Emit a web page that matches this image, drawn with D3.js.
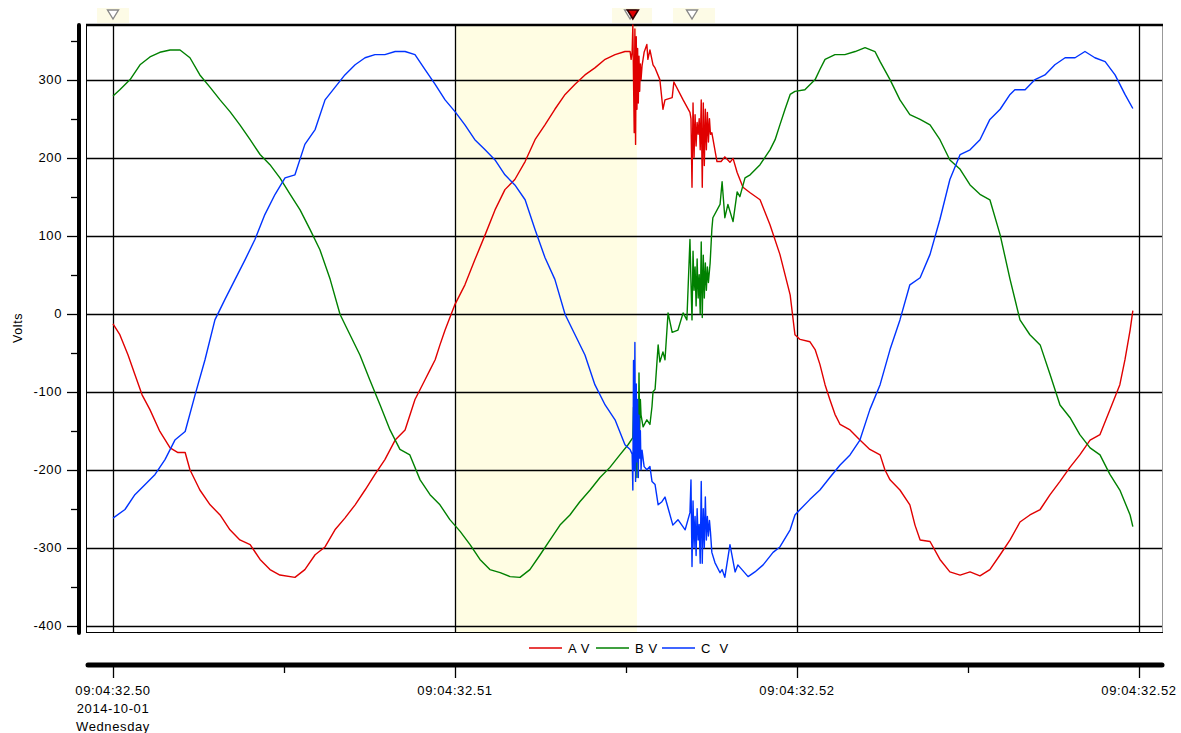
<!DOCTYPE html>
<html><head><meta charset="utf-8">
<script src="https://cdn.jsdelivr.net/npm/d3@7"></script>
<style>body{margin:0;background:#fff;} text{font-family:"Liberation Sans",Arial,sans-serif;fill:#000;letter-spacing:0.6px;}</style>
</head><body><svg id="c" width="1181" height="733"></svg>
<script>
// ---- data (time in ms after 09:04:32.500, values in Volts) ----
const seriesNames = ["A V", "B V", "C\u00a0 V"];
const xTickLabels = ["09:04:32.50", "09:04:32.51", "09:04:32.52", "09:04:32.52"];
const xTickTimes = [0, 10, 20, 30];
const xMinorTimes = [5, 15, 25];
const dateLines = ["2014-10-01", "Wednesday"];
const yTicks = [-400, -300, -200, -100, 0, 100, 200, 300];
const yMinorTicks = [-350, -250, -150, -50, 50, 150, 250, 350];
const shadedSpan = [10, 15.32];
const markerTimes = [0, 15.12, 15.2, 16.93];

const aVolts = [[0,-13],[0.20,-27],[0.44,-53],[0.64,-78],[0.85,-104],[1.08,-123],[1.37,-151],[1.67,-172],[1.90,-178],[2.11,-178],[2.25,-200],[2.54,-226],[2.84,-245],[3.13,-258],[3.42,-277],[3.71,-290],[4.01,-296],[4.30,-315],[4.59,-328],[4.88,-335],[5.32,-338],[5.61,-328],[5.91,-309],[6.20,-299],[6.49,-277],[6.78,-262],[7.08,-245],[7.37,-226],[7.66,-206],[7.95,-187],[8.25,-162],[8.54,-149],[8.83,-110],[9.12,-85],[9.27,-72],[9.42,-59],[9.56,-40],[9.71,-21],[10.00,12],[10.29,37],[10.58,69],[10.88,101],[11.17,133],[11.46,159],[11.75,172],[12.05,195],[12.34,223],[12.63,242],[12.92,262],[13.22,281],[13.51,294],[13.80,306],[14.09,315],[14.39,326],[14.68,332],[14.97,336],[15.12,336],[15.15,326],[15.18,336],
[15.20,370],[15.22,300],[15.24,232],[15.26,365],[15.28,217],[15.30,355],[15.32,262],[15.34,340],[15.36,270],[15.38,330],[15.40,285],[15.42,320],[15.44,300],[15.47,318],[15.53,335],[15.61,345],[15.64,326],[15.70,338],[15.79,319],[15.85,315],[15.99,300],[16.08,262],[16.14,274],[16.35,277],[16.40,297],[16.67,274],[16.87,258],
[16.90,250],[16.93,162],[16.96,270],[16.99,200],[17.02,255],[17.05,215],[17.08,245],[17.11,230],[17.14,250],[17.17,210],[17.20,274],[17.23,162],[17.26,270],[17.29,190],[17.32,262],[17.35,210],[17.38,258],[17.41,220],[17.44,250],[17.47,230],[17.51,232],[17.66,195],[17.78,195],[17.89,201],[18.04,194],[18.13,199],[18.25,181],[18.42,162],[18.63,155],[18.92,146],[19.21,114],[19.50,76],[19.80,24],[19.94,-27],[20.09,-33],[20.38,-36],[20.53,-46],[20.67,-65],[20.82,-91],[20.96,-110],[21.11,-129],[21.26,-142],[21.55,-149],[21.84,-162],[22.13,-174],[22.43,-181],[22.57,-200],[22.72,-213],[23.01,-226],[23.30,-245],[23.45,-271],[23.60,-290],[23.89,-292],[24.18,-315],[24.47,-331],[24.77,-335],[25.06,-331],[25.35,-336],[25.64,-328],[25.94,-309],[26.23,-290],[26.52,-267],[26.81,-258],[27.11,-251],[27.40,-232],[27.69,-215],[27.98,-197],[28.27,-181],[28.57,-162],[28.86,-155],[29.15,-123],[29.44,-91],[29.59,-59],[29.74,-21],[29.82,4]];

const bVolts = [[0,279],[0.20,287],[0.50,300],[0.79,319],[1.08,329],[1.37,335],[1.67,338],[1.96,338],[2.25,328],[2.54,306],[2.84,290],[3.13,274],[3.42,259],[3.71,242],[4.01,223],[4.30,204],[4.59,191],[4.88,174],[5.18,153],[5.47,133],[5.76,108],[6.05,82],[6.35,44],[6.64,-1],[6.93,-27],[7.22,-53],[7.51,-85],[7.81,-117],[8.10,-149],[8.39,-174],[8.68,-181],[8.98,-213],[9.27,-232],[9.56,-245],[9.85,-264],[10.15,-279],[10.44,-296],[10.73,-315],[11.02,-328],[11.32,-332],[11.61,-337],[11.90,-338],[12.19,-328],[12.49,-309],[12.78,-290],[13.07,-271],[13.36,-258],[13.65,-241],[13.95,-226],[14.24,-210],[14.53,-197],[14.82,-181],[15.06,-168],[15.20,-159],
[15.22,-120],[15.24,-175],[15.26,-95],[15.28,-200],[15.30,-110],[15.32,-210],[15.34,-130],[15.36,-180],[15.38,-76],[15.40,-150],[15.42,-110],[15.44,-130],[15.50,-145],[15.61,-136],[15.70,-142],[15.76,-119],[15.79,-100],[15.85,-97],[15.94,-40],[15.99,-62],[16.08,-49],[16.14,-59],[16.23,1],[16.35,-24],[16.52,-21],[16.67,1],[16.78,-8],
[16.87,95],[16.90,40],[16.93,-8],[16.96,80],[16.99,30],[17.02,60],[17.05,10],[17.08,70],[17.11,20],[17.14,50],[17.17,0],[17.20,92],[17.23,-5],[17.26,75],[17.29,20],[17.32,65],[17.35,30],[17.38,60],[17.41,40],[17.46,65],[17.51,108],[17.54,123],[17.75,140],[17.81,169],[17.89,123],[17.98,140],[18.13,118],[18.25,156],[18.33,150],[18.48,174],[18.63,178],[18.92,191],[19.21,210],[19.36,223],[19.50,242],[19.65,262],[19.80,281],[19.94,285],[20.23,287],[20.53,300],[20.67,313],[20.82,326],[21.11,332],[21.40,332],[21.70,336],[21.99,341],[22.28,336],[22.43,323],[22.72,300],[23.01,274],[23.30,255],[23.60,249],[23.89,242],[24.18,223],[24.47,197],[24.77,185],[25.06,165],[25.35,153],[25.64,146],[25.94,101],[26.23,44],[26.52,-8],[26.81,-27],[27.11,-40],[27.40,-78],[27.69,-117],[27.98,-133],[28.27,-155],[28.57,-172],[28.86,-181],[29.15,-206],[29.44,-226],[29.74,-258],[29.82,-273]];

const cVolts = [[0,-262],[0.35,-251],[0.64,-232],[0.94,-219],[1.23,-206],[1.52,-187],[1.81,-162],[2.11,-151],[2.40,-104],[2.69,-59],[2.98,-8],[3.27,18],[3.57,44],[3.86,69],[4.15,95],[4.44,127],[4.74,153],[5.03,174],[5.32,178],[5.61,217],[5.91,236],[6.20,274],[6.49,290],[6.78,306],[7.08,319],[7.37,328],[7.66,332],[7.95,332],[8.25,336],[8.54,336],[8.83,332],[9.12,313],[9.42,294],[9.71,274],[10.00,259],[10.29,242],[10.58,223],[10.88,210],[11.17,197],[11.46,178],[11.75,165],[12.05,146],[12.34,108],[12.63,72],[12.92,44],[13.22,-1],[13.51,-27],[13.80,-53],[14.09,-91],[14.39,-117],[14.68,-136],[14.97,-168],[15.12,-174],
[15.18,-180],[15.20,-226],[15.22,-60],[15.24,-200],[15.26,-37],[15.28,-215],[15.30,-90],[15.32,-190],[15.34,-110],[15.36,-210],[15.38,-130],[15.40,-185],[15.42,-150],[15.44,-200],[15.47,-175],[15.53,-196],[15.61,-200],[15.70,-196],[15.76,-215],[15.85,-219],[15.94,-245],[16.05,-241],[16.14,-235],[16.23,-249],[16.37,-271],[16.52,-264],[16.73,-277],[16.87,-255],
[16.90,-213],[16.93,-324],[16.96,-240],[16.99,-300],[17.02,-260],[17.05,-310],[17.08,-250],[17.11,-290],[17.14,-270],[17.17,-320],[17.20,-215],[17.23,-320],[17.26,-250],[17.29,-300],[17.32,-235],[17.35,-290],[17.38,-260],[17.41,-285],[17.44,-265],[17.47,-280],[17.51,-306],[17.60,-319],[17.75,-332],[17.81,-328],[17.89,-338],[18.04,-296],[18.19,-331],[18.27,-322],[18.57,-337],[18.77,-331],[19.01,-322],[19.30,-306],[19.50,-299],[19.80,-277],[19.94,-258],[20.09,-251],[20.38,-238],[20.67,-226],[20.96,-210],[21.26,-194],[21.55,-181],[21.84,-162],[22.13,-123],[22.43,-91],[22.72,-46],[23.01,-8],[23.30,37],[23.60,46],[23.89,76],[24.18,121],[24.47,172],[24.77,204],[25.06,210],[25.35,223],[25.64,249],[25.94,262],[26.23,281],[26.37,287],[26.67,287],[26.96,300],[27.25,306],[27.54,319],[27.84,328],[28.13,328],[28.42,336],[28.71,328],[29.01,323],[29.30,306],[29.59,281],[29.82,263]];

// ---- styles / layout ----
const colors = ["#e00000", "#008000", "#0033ff"];
const series = [aVolts, bVolts, cVolts];
const plotL = 86, plotR = 1162, plotT = 25, plotB = 632;

const svg = d3.select("#c");
const x = d3.scaleLinear().domain([0, 30]).range([113, 1139]);
const y = d3.scaleLinear().domain([-408, 370]).range([plotB, plotT]);

// shaded span
svg.append("rect").attr("x", x(shadedSpan[0])).attr("y", plotT)
  .attr("width", x(shadedSpan[1]) - x(shadedSpan[0])).attr("height", plotB - plotT)
  .attr("fill", "#fffde3");

// gridlines
svg.append("g").selectAll("line").data(yTicks).join("line")
  .attr("x1", plotL).attr("x2", plotR).attr("y1", d => Math.round(y(d)) + 0.5).attr("y2", d => Math.round(y(d)) + 0.5)
  .attr("stroke", "#000").attr("stroke-width", 1.3);
svg.append("g").selectAll("line").data(xTickTimes).join("line")
  .attr("y1", plotT).attr("y2", plotB).attr("x1", d => Math.round(x(d)) + 0.5).attr("x2", d => Math.round(x(d)) + 0.5)
  .attr("stroke", "#000").attr("stroke-width", 1.3);

// frame
svg.append("line").attr("x1", plotL + 0.5).attr("x2", plotL + 0.5).attr("y1", plotT).attr("y2", plotB).attr("stroke", "#000").attr("stroke-width", 1);
svg.append("line").attr("x1", plotR + 0.5).attr("x2", plotR + 0.5).attr("y1", plotT).attr("y2", plotB).attr("stroke", "#999").attr("stroke-width", 1);
svg.append("line").attr("x1", plotL).attr("x2", plotR + 1).attr("y1", plotB + 0.5).attr("y2", plotB + 0.5).attr("stroke", "#000").attr("stroke-width", 1);
svg.append("line").attr("x1", plotL).attr("x2", plotR + 1).attr("y1", plotT).attr("y2", plotT).attr("stroke", "#000").attr("stroke-width", 2.5);

// series lines
const line = d3.line().x(d => x(d[0])).y(d => y(d[1]));
series.forEach((s, i) => {
  svg.append("path").datum(s).attr("d", line).attr("fill", "none")
    .attr("stroke", colors[i]).attr("stroke-width", 1.4).attr("stroke-linejoin", "round");
});

// y axis
const yAxisX = 79;
svg.append("line").attr("x1", yAxisX).attr("x2", yAxisX).attr("y1", plotT).attr("y2", plotB + 1)
  .attr("stroke", "#000").attr("stroke-width", 4).attr("stroke-linecap", "round");
svg.append("g").selectAll("line").data(yTicks).join("line")
  .attr("x1", 67).attr("x2", yAxisX).attr("y1", d => Math.round(y(d)) + 0.5).attr("y2", d => Math.round(y(d)) + 0.5)
  .attr("stroke", "#000").attr("stroke-width", 1.3);
svg.append("g").selectAll("line").data(yMinorTicks).join("line")
  .attr("x1", 71).attr("x2", yAxisX).attr("y1", d => Math.round(y(d)) + 0.5).attr("y2", d => Math.round(y(d)) + 0.5)
  .attr("stroke", "#000").attr("stroke-width", 1.3);
svg.append("g").selectAll("text").data(yTicks).join("text")
  .attr("x", 62).attr("y", d => y(d) + 4.5).attr("text-anchor", "end").attr("font-size", 13)
  .text(d => d);
svg.append("text").attr("transform", "translate(22,328) rotate(-90)").attr("text-anchor", "middle")
  .attr("font-size", 12.5).text("Volts");

// x axis
const xAxisY = 665;
svg.append("line").attr("x1", plotL + 2).attr("x2", plotR).attr("y1", xAxisY).attr("y2", xAxisY)
  .attr("stroke", "#000").attr("stroke-width", 5).attr("stroke-linecap", "round");
svg.append("g").selectAll("line").data(xTickTimes).join("line")
  .attr("x1", d => Math.round(x(d)) + 0.5).attr("x2", d => Math.round(x(d)) + 0.5).attr("y1", xAxisY).attr("y2", 678)
  .attr("stroke", "#000").attr("stroke-width", 1.3);
svg.append("g").selectAll("line").data(xMinorTimes).join("line")
  .attr("x1", d => Math.round(x(d)) + 0.5).attr("x2", d => Math.round(x(d)) + 0.5).attr("y1", xAxisY).attr("y2", 673)
  .attr("stroke", "#000").attr("stroke-width", 1.3);
svg.append("g").selectAll("text").data(xTickTimes).join("text")
  .attr("x", d => x(d)).attr("y", 695).attr("text-anchor", "middle").attr("font-size", 13)
  .text((d, i) => xTickLabels[i]);
dateLines.forEach((t, i) => {
  svg.append("text").attr("x", x(0)).attr("y", 713 + i * 18).attr("text-anchor", "middle").attr("font-size", 13).text(t);
});

// legend
const legX = [529, 596, 662];
seriesNames.forEach((n, i) => {
  svg.append("line").attr("x1", legX[i]).attr("x2", legX[i] + 33).attr("y1", 648).attr("y2", 648)
    .attr("stroke", colors[i]).attr("stroke-width", 1.5);
  svg.append("text").attr("x", legX[i] + 39).attr("y", 652.5).attr("font-size", 13).text(n);
});

// top markers
const tri = "M-5.5,0 L5.5,0 L0,9 Z";
const markerG = svg.append("g");
const bgSpans = [[97, 129], [612, 652], [673, 715]];
markerG.selectAll("rect").data(bgSpans).join("rect")
  .attr("x", d => d[0]).attr("y", 8).attr("width", d => d[1] - d[0]).attr("height", 15).attr("fill", "#fdfbe6");
[0, 1, 3].forEach(k => {
  markerG.append("path").attr("d", tri).attr("transform", `translate(${x(markerTimes[k])},10)`)
    .attr("fill", "#fff").attr("stroke", "#888").attr("stroke-width", 1.4);
});
markerG.append("path").attr("d", tri).attr("transform", `translate(${x(markerTimes[2])},10)`)
  .attr("fill", "#e00000").attr("stroke", "#300").attr("stroke-width", 1.6);
</script>
</body></html>
